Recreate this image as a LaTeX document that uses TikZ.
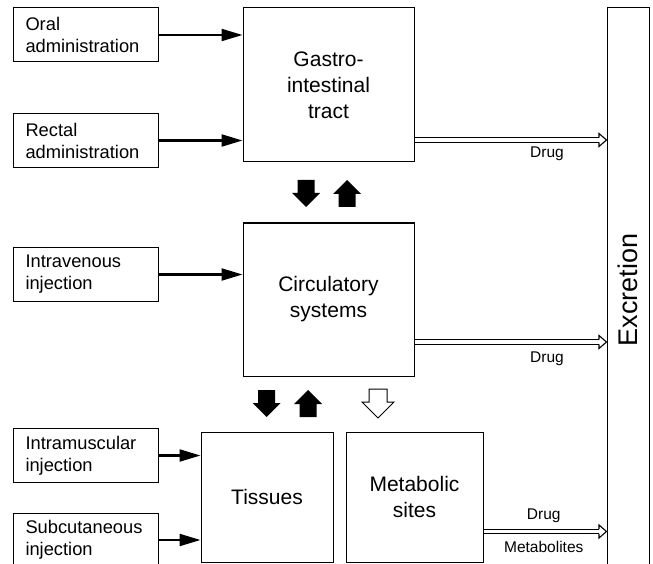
\documentclass[tikz,border=0pt]{standalone}
\usepackage{fontspec}
\setmainfont{Liberation Sans}
\usetikzlibrary{arrows.meta}
\tikzset{
  blkdown/.pic={\fill (-8.5,0) -- (8.5,0) -- (8.5,13) -- (14,13) -- (0,27) -- (-14,13) -- (-8.5,13) -- cycle;},
  blkup/.pic={\fill (-8.5,27) -- (8.5,27) -- (8.5,14) -- (14,14) -- (0,0) -- (-14,14) -- (-8.5,14) -- cycle;},
  hollowdown/.pic={\draw[line width=1pt, fill=white] (-9,0) -- (9,0) -- (9,13) -- (16,13) -- (0,29) -- (-16,13) -- (-9,13) -- cycle;},
  drughead/.pic={\draw[line width=1.1pt, line join=miter] (-7.5,-2.3) -- (-7.5,-6.5) -- (0,0) -- (-7.5,6.5) -- (-7.5,2.3);}
}
\begin{document}
\begin{tikzpicture}[x=1pt,y=-1pt,
  src/.style={draw, line width=1pt, minimum height=54pt, text width=120pt, inner xsep=12.5pt, inner ysep=0pt, align=left, font=\fontsize{18.3}{22}\selectfont},
  big/.style={draw, line width=1pt, align=center, inner sep=0pt, font=\fontsize{21}{26}\selectfont},
  feed/.style={line width=2.2pt, -{Triangle[length=21pt,width=12pt]}},
  dbl/.style={double, double distance=3.5pt, line width=1.1pt, shorten >=7.5pt},
  lbl/.style={inner sep=0pt, font=\fontsize{15.5}{18}\selectfont},
]
\useasboundingbox (0,0) rectangle (653,564);
\clip (0,0) rectangle (653,564);

% source boxes
\node[src] (oral) at (85.5,35) {Oral\\administration};
\node[src] (rect) at (85.5,140.5) {Rectal\\administration};
\node[src] (iv) at (85.5,274.5) {Intravenous\\injection};
\node[src] (im) at (85.5,455.5) {Intramuscular\\injection};
\node[src] (sc) at (85.5,540) {Subcutaneous\\injection};

% main boxes
\node[big, minimum width=171pt, minimum height=154pt] (gi) at (328.5,85) {Gastro-\\intestinal\\tract};
\node[big, minimum width=171pt, minimum height=153pt] (circ) at (328.5,299.5) {Circulatory\\systems};
\node[big, minimum width=132pt, minimum height=130pt] (tis) at (267,497) {Tissues};
\node[big, minimum width=137pt, minimum height=130pt] (met) at (414.5,497) {Metabolic\\sites};
\node[draw, line width=1pt, minimum width=42pt, minimum height=564pt, inner sep=0pt] (exc) at (628,290) {};
\node[rotate=90, inner sep=0pt, font=\fontsize{27}{32}\selectfont] (exct) at (exc.center) {Excretion};

% feed arrows
\draw[feed] (oral.east) -- (oral.east -| gi.west);
\draw[feed] (rect.east) -- (rect.east -| gi.west);
\draw[feed] (iv.east) -- (iv.east -| circ.west);
\draw[feed] (im.east) -- (im.east -| tis.west);
\draw[feed] (sc.east) -- (sc.east -| tis.west);

% excretion arrows
\coordinate (d1) at ([yshift=22.5pt]gi.south east);
\coordinate (d2) at ([yshift=34.5pt]circ.south east);
\coordinate (d3) at ([yshift=31pt]met.south east);
\coordinate (e1) at (d1 -| exc.west);
\coordinate (e2) at (d2 -| exc.west);
\coordinate (e3) at (d3 -| exc.west);
\draw[dbl] (d1) -- (e1) node[lbl, pos=0.69, yshift=-14pt] {Drug};
\draw[dbl] (d2) -- (e2) node[lbl, pos=0.69, yshift=-16.5pt] {Drug};
\draw[dbl] (d3) -- (e3)
  node[lbl, pos=0.49, yshift=16pt] {Drug}
  node[lbl, pos=0.49, yshift=-15pt] {Metabolites};
\pic at (e1) {drughead};
\pic at (e2) {drughead};
\pic at (e3) {drughead};

% block arrows
\pic at (306,180) {blkdown};
\pic at (347,180) {blkup};
\pic at (266.5,390) {blkdown};
\pic at (308,390) {blkup};
\pic at (378,389) {hollowdown};
\end{tikzpicture}
\end{document}
